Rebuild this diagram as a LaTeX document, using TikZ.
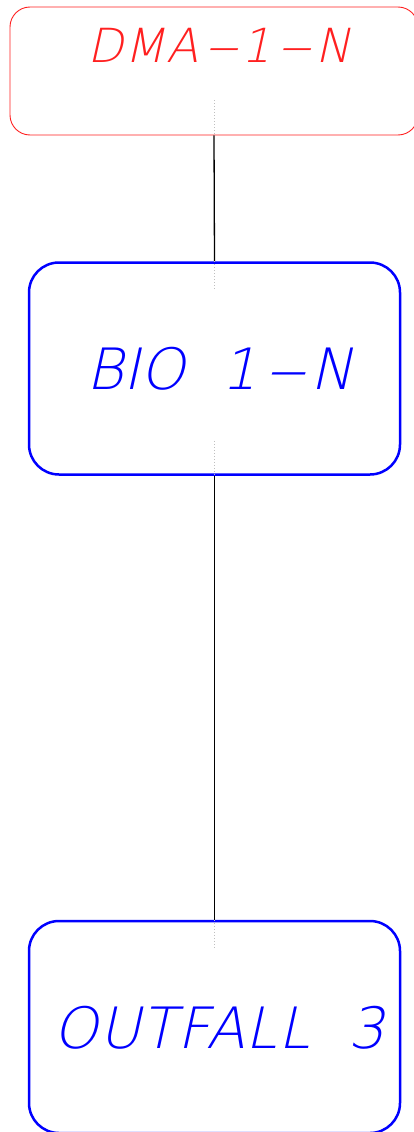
\documentclass[tikz,border=0pt]{standalone}
\usepackage{fontspec}
\usepackage{graphicx}
\usepackage{xcolor}
\usepackage{tikz}
\usetikzlibrary{positioning, calc}
\newfontfamily\cadfont[FakeSlant=0.22]{DejaVu Sans ExtraLight}
\newcommand\caddash{\kern0.1em\scalebox{1.45}[1]{–}\kern0.1em}
\definecolor{cadred}{HTML}{FF2020}
\definecolor{cadblue}{HTML}{0000FF}

\begin{document}
\begin{tikzpicture}[x=1pt, y=-1pt,
    dmabox/.style={draw=cadred, line width=0.9pt, rounded corners=20pt},
    unitbox/.style={draw=cadblue, line width=2.5pt, rounded corners=30pt,
                    minimum width=371pt, minimum height=212pt},
    pipe/.style={draw=black, line width=1.3pt},
    stub/.style={draw=black!25, line width=1pt, dotted}]
    \useasboundingbox (0,0) rectangle (414,1132);

    \node[dmabox, minimum width=408pt, minimum height=128pt] (dma) at (214,71) {};
    \node[text=cadred, font=\cadfont\addfontfeature{LetterSpace=2}\fontsize{47}{50}\selectfont] (dmatext) at (219,45) {DMA\caddash1\caddash N};

    \node[unitbox] (bio) at (214.5,368.5) {};
    \node[text=cadblue, font=\cadfont\fontsize{57}{60}\selectfont] (biotext) at (220,369) {BIO~~1\caddash N};

    \node[unitbox] (outfall) at (214.5,1027) {};
    \node[text=cadblue, font=\cadfont\addfontfeature{LetterSpace=1.5}\fontsize{57}{60}\selectfont] (outtext) at (219,1028) {OUTFALL~~3};

    % pipes between units
    \draw[pipe] (dma.south) -- (bio.north);
    \draw[pipe] (bio.south) -- (outfall.north);

    % faint centre marks
    \draw[stub] ($(dma.south)+(0,-35)$) -- (dma.south);
    \draw[stub] (bio.north) -- ++(0,28);
    \draw[stub] ($(bio.south)+(0,-35)$) -- (bio.south);
    \draw[stub] (outfall.north) -- ++(0,29);
\end{tikzpicture}
\end{document}
